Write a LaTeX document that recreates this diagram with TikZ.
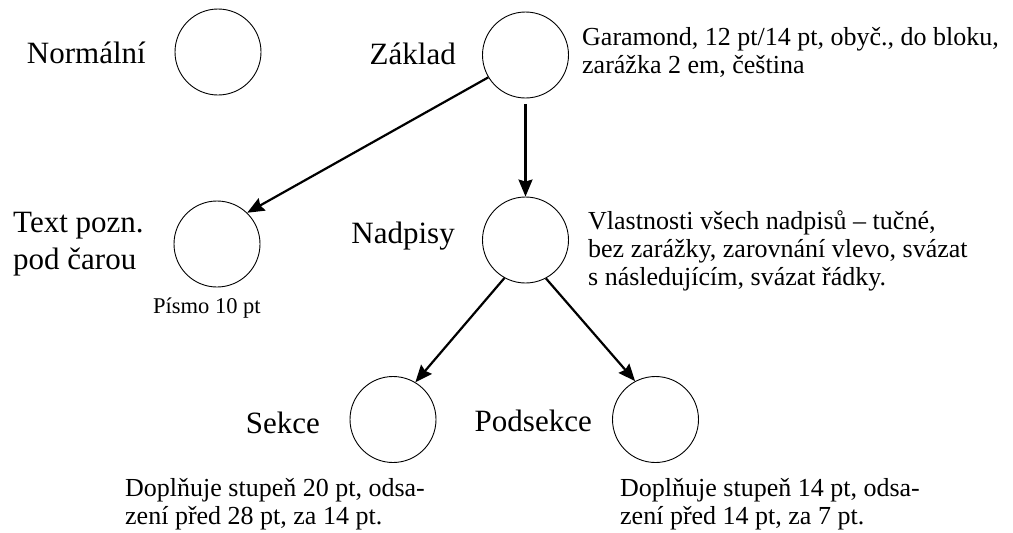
\documentclass[tikz,border=0pt]{standalone}
\usepackage{fontspec}
\setmainfont{Liberation Serif}
\usetikzlibrary{arrows.meta}

\begin{document}
\begin{tikzpicture}[x=1pt,y=-1pt,
  styl/.style={draw, circle, line width=0.9pt, minimum size=86pt, inner sep=0pt},
  nazev/.style={font=\fontsize{31}{37}\selectfont, inner sep=0pt, align=left},
  popis/.style={font=\fontsize{26}{28}\selectfont, inner sep=0pt, align=left},
  dedi/.style={line width=2.2pt, -{Stealth[length=17pt,width=14pt,inset=2pt]}}]
\useasboundingbox (0,0) rectangle (1013,533);

% Styly (kruhy)
\node[styl] (normal) at (218,52) {};
\node[styl] (zaklad) at (525.5,55) {};
\node[styl] (pozn) at (217,244) {};
\node[styl] (nadpisy) at (525.5,240) {};
\node[styl] (sekce) at (393,419.5) {};
\node[styl] (podsekce) at (655.5,419.5) {};

% Nazvy stylu (u viceradkovych je base posledni radek)
\node[nazev, anchor=base east] (normallbl) at (146,63) {Normální};
\node[nazev, anchor=base east] (zakladlbl) at (456,64) {Základ};
\node[nazev, anchor=base west] (poznlbl) at (13,269) {Text pozn.\\pod čarou};
\node[nazev, anchor=base east] (nadpisylbl) at (455,243) {Nadpisy};
\node[nazev, anchor=base east] (sekcelbl) at (320,433) {Sekce};
\node[nazev, anchor=base east] (podsekcelbl) at (592,431) {Podsekce};

% Popisy
\node[popis, anchor=base west] (zakladtxt) at (582,73) {Garamond, 12 pt/14 pt, obyč., do bloku,\\zarážka 2 em, čeština};
\node[popis, anchor=base west, font=\fontsize{22.5}{27}\selectfont] (lpozntxt) at (153,313) {Písmo 10 pt};
\node[popis, anchor=base west] (nadpisytxt) at (588,285) {Vlastnosti všech nadpisů -- tučné,\\bez zarážky, zarovnání vlevo, svázat\\s následujícím, svázat řádky.};
\node[popis, anchor=base west] (sekcetxt) at (125,524) {Doplňuje stupeň 20 pt, odsa-\\zení před 28 pt, za 14 pt.};
\node[popis, anchor=base west] (podsekcetxt) at (620,524) {Doplňuje stupeň 14 pt, odsa-\\zení před 14 pt, za 7 pt.};

% Dedicnost
\draw[dedi] (zaklad.211) -- (pozn.46);
\draw[dedi, shorten <=6pt] (zaklad) -- (nadpisy);
\draw[dedi] (nadpisy.241) -- (sekce.59);
\draw[dedi] (nadpisy.298) -- (podsekce.118);
\end{tikzpicture}
\end{document}
